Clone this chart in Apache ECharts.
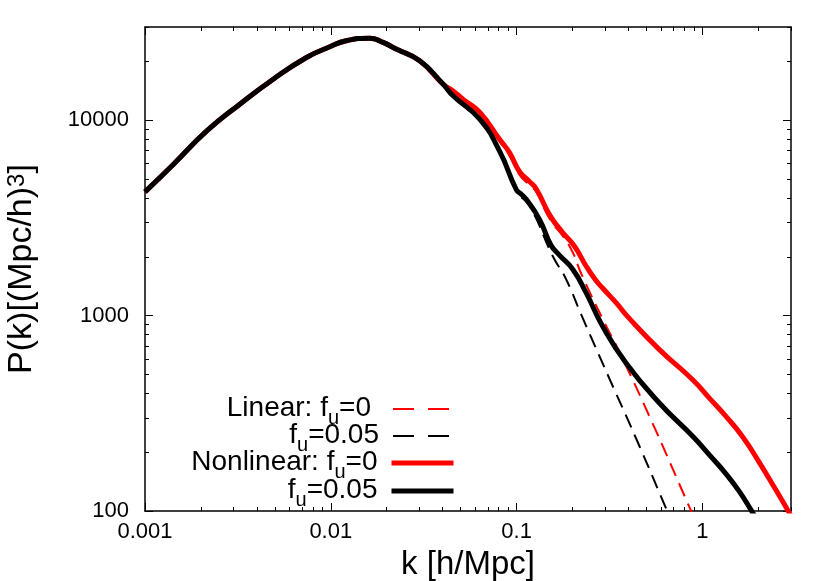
<!DOCTYPE html>
<html><head><meta charset="utf-8">
<script src="https://cdn.jsdelivr.net/npm/echarts@6/dist/echarts.min.js"></script>
<style>html,body{margin:0;padding:0;background:#fff}#c{width:830px;height:581px}</style>
</head><body><div id="c"></div>
<script>
// shared low-k part (all four curves coincide)
const kCommon = [0.001, 0.00142, 0.00215, 0.00324, 0.0049, 0.0074, 0.0099, 0.0121, 0.0162, 0.0191, 0.0225, 0.0301, 0.0402];
const pCommon = [4300, 5940, 8810, 12080, 16220, 20940, 23780, 25520, 26300, 25010, 23130, 20140, 15310];

// Linear, f_u = 0 (red dashed)
const kLin0 = [0.0455, 0.0514, 0.0633, 0.081, 0.0916, 0.1038, 0.1175, 0.1276, 0.152, 0.1775, 0.201, 0.218, 0.237, 0.291, 0.358, 0.519, 0.851, 0.9];
const pLin0 = [14000, 12650, 10800, 7800, 6600, 5250, 4650, 4300, 3080, 2553, 2098, 1722, 1442, 960, 650, 305, 105, 93];

// Linear, f_u = 0.05 (black dashed)
const kLin05 = [0.0455, 0.0633, 0.081, 0.0995, 0.1175, 0.1567, 0.185, 0.225, 0.316, 0.44, 0.638, 0.67];
const pLin05 = [13200, 9950, 6800, 4350, 3640, 2014, 1531, 990, 476, 235, 103, 92];

// Nonlinear, f_u = 0 (red thick)
const kNl0 = [0.0455, 0.0514, 0.0633, 0.081, 0.0916, 0.1038, 0.1175, 0.1276, 0.152, 0.1775, 0.205, 0.237, 0.265, 0.291, 0.344, 0.395, 0.587, 0.887, 1.1, 1.34, 1.647, 2.02, 2.49, 2.88, 3.1];
const pNl0 = [14130, 12820, 11000, 7990, 6826, 5450, 4850, 4450, 3228, 2655, 2265, 1790, 1530, 1380, 1161, 991, 670, 470, 375, 305, 240, 178, 128, 101, 89];

// Nonlinear, f_u = 0.05 (black thick)
const kNl05 = [0.0455, 0.0633, 0.081, 0.0995, 0.106, 0.1127, 0.133, 0.153, 0.170, 0.201, 0.237, 0.291, 0.389, 0.587, 0.887, 1.1, 1.34, 1.58, 1.83, 2.0];
const pNl05 = [13340, 10120, 6950, 4427, 4180, 3937, 3100, 2300, 2040, 1722, 1306, 880, 571, 357, 241, 192, 155, 126, 101, 88];

const xMajorTicks = [0.001, 0.01, 0.1, 1];
const xTickLabels = ['0.001', '0.01', '0.1', '1'];
const xMinorTicks = [0.002,0.003,0.004,0.005,0.006,0.007,0.008,0.009,0.02,0.03,0.04,0.05,0.06,0.07,0.08,0.09,0.2,0.3,0.4,0.5,0.6,0.7,0.8,0.9,2,3];
const yMajorTicks = [100, 1000, 10000];
const yTickLabels = ['100', '1000', '10000'];
const yMinorTicks = [200,300,400,500,600,700,800,900,2000,3000,4000,5000,6000,7000,8000,9000,20000,30000];

const seriesNames = ['lin0', 'lin05', 'nl0', 'nl05'];
const legendLabels = {
  lin0: '{t|Linear: f}{s|u}{t|=0}',
  lin05: '{t|f}{s|u}{t|=0.05}',
  nl0: '{t|Nonlinear: f}{s|u}{t|=0}',
  nl05: '{t|f}{s|u}{t|=0.05}'
};

const FONT = 'Liberation Sans, Arial, Helvetica, sans-serif';
function zip(a, b) { return a.map((v, i) => [v, b[i]]); }
function pick(vals, labels, v) {
  let best = 0, bd = Infinity;
  vals.forEach((t, i) => { const d = Math.abs(Math.log10(t) - Math.log10(v)); if (d < bd) { bd = d; best = i; } });
  return labels[best];
}

const chart = echarts.init(document.getElementById('c'), null, {renderer: 'canvas'});

const xBase = {type: 'log', logBase: 10, min: 0.001, max: 3, splitLine: {show: false}, gridIndex: 0};
const yBase = {type: 'log', logBase: 10, min: 100, max: 30000, splitLine: {show: false}, gridIndex: 0};
const lineSt = {color: '#000', width: 1.5};
const tickSt = {color: '#000', width: 1};

const xAxes = [
  Object.assign({}, xBase, {
    position: 'bottom',
    axisLine: {show: true, lineStyle: lineSt},
    axisTick: {show: true, inside: true, length: 8, customValues: xMajorTicks, lineStyle: tickSt},
    axisLabel: {show: true, customValues: xMajorTicks, formatter: v => pick(xMajorTicks, xTickLabels, v),
      fontSize: 22, fontFamily: FONT, color: '#000', margin: 10},
    name: 'k [h/Mpc]', nameLocation: 'middle', nameGap: 37,
    nameTextStyle: {fontSize: 33, fontFamily: FONT, color: '#000'}
  }),
  Object.assign({}, xBase, {
    position: 'bottom', axisLine: {show: false},
    axisTick: {show: true, inside: true, length: 4, customValues: xMinorTicks, lineStyle: tickSt},
    axisLabel: {show: false}
  }),
  Object.assign({}, xBase, {
    position: 'top', axisLine: {show: true, lineStyle: lineSt},
    axisTick: {show: true, inside: true, length: 8, customValues: xMajorTicks, lineStyle: tickSt},
    axisLabel: {show: false}
  }),
  Object.assign({}, xBase, {
    position: 'top', axisLine: {show: false},
    axisTick: {show: true, inside: true, length: 4, customValues: xMinorTicks, lineStyle: tickSt},
    axisLabel: {show: false}
  })
];

const yAxes = [
  Object.assign({}, yBase, {
    position: 'left',
    axisLine: {show: true, lineStyle: lineSt},
    axisTick: {show: true, inside: true, length: 8, customValues: yMajorTicks, lineStyle: tickSt},
    axisLabel: {show: true, customValues: yMajorTicks, formatter: v => pick(yMajorTicks, yTickLabels, v),
      fontSize: 22, fontFamily: FONT, color: '#000', margin: 16},
    name: '{t|P(k)[(Mpc/h)}{p|3}{t|]}', nameLocation: 'middle', nameGap: 100,
    nameTextStyle: {fontSize: 34, fontFamily: FONT, color: '#000',
      rich: {
        t: {fontSize: 34, fontFamily: FONT, color: '#000', lineHeight: 40, verticalAlign: 'top'},
        p: {fontSize: 24, fontFamily: FONT, color: '#000', lineHeight: 24, verticalAlign: 'top'}
      }}
  }),
  Object.assign({}, yBase, {
    position: 'left', axisLine: {show: false},
    axisTick: {show: true, inside: true, length: 4, customValues: yMinorTicks, lineStyle: tickSt},
    axisLabel: {show: false}
  }),
  Object.assign({}, yBase, {
    position: 'right', axisLine: {show: true, lineStyle: lineSt},
    axisTick: {show: true, inside: true, length: 8, customValues: yMajorTicks, lineStyle: tickSt},
    axisLabel: {show: false}
  }),
  Object.assign({}, yBase, {
    position: 'right', axisLine: {show: false},
    axisTick: {show: true, inside: true, length: 4, customValues: yMinorTicks, lineStyle: tickSt},
    axisLabel: {show: false}
  })
];

function mkSeries(name, ks, ps, color, width, dash, z) {
  return {
    type: 'line', name: name, xAxisIndex: 0, yAxisIndex: 0,
    data: zip(kCommon.concat(ks), pCommon.concat(ps)),
    symbol: 'none', showSymbol: false, smooth: 0.5, clip: true, z: z,
    lineStyle: {color: color, width: width, type: dash},
    itemStyle: {color: color},
    emphasis: {disabled: true}
  };
}

const legendRows = [394, 421, 448, 476];
const legendTextPad = [17, 9, 9, 9];
const legendStyles = [
  {color: '#ff0000', width: 2, type: [21, 14]},
  {color: '#000000', width: 2, type: [21, 14]},
  {color: '#ff0000', width: 5, type: 'solid'},
  {color: '#000000', width: 5, type: 'solid'}
];
const legends = seriesNames.map((n, i) => ({
  data: [n], orient: 'vertical', align: 'right', right: 374, top: legendRows[i], padding: 0,
  itemWidth: 62, itemHeight: 14, selectedMode: false,
  lineStyle: legendStyles[i], itemStyle: {opacity: 0},
  formatter: nm => legendLabels[nm],
  textStyle: {fontFamily: FONT, color: '#000', padding: [0, legendTextPad[i], 0, 0],
    rich: {
      t: {fontSize: 28, fontFamily: FONT, color: '#000', lineHeight: 30, verticalAlign: 'top'},
      s: {fontSize: 20, fontFamily: FONT, color: '#000', lineHeight: 20, verticalAlign: 'top', padding: [14, 0, 0, 0]}
    }}
}));

chart.setOption({
  animation: false,
  backgroundColor: '#fff',
  grid: {left: 145, right: 39, top: 27, bottom: 70, containLabel: false, outerBoundsMode: 'none'},
  xAxis: xAxes,
  yAxis: yAxes,
  legend: legends,
  series: [
    mkSeries('lin0', kLin0, pLin0, '#ff0000', 2, [14, 8], 2),
    mkSeries('lin05', kLin05, pLin05, '#000000', 2, [14, 8], 3),
    mkSeries('nl0', kNl0, pNl0, '#ff0000', 5, 'solid', 4),
    mkSeries('nl05', kNl05, pNl05, '#000000', 5, 'solid', 5)
  ]
});
</script>
</body></html>
